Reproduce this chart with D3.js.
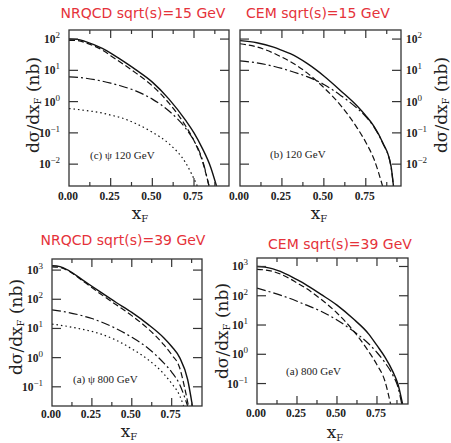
<!DOCTYPE html>
<html>
<head>
<meta charset="utf-8">
<script src="https://cdn.jsdelivr.net/npm/d3@7"></script>
<style>
  body { margin: 0; background: #fff; }
  svg { display: block; }
  .tick-label { font-family: "Liberation Serif", serif; font-size: 11.5px; font-weight: bold; fill: #222; }
  .axis-title { font-family: "DejaVu Serif", serif; font-size: 17px; fill: #222; }
  .note { font-family: "Liberation Serif", serif; font-size: 11px; fill: #222; }
  .title { font-family: "DejaVu Sans", sans-serif; font-size: 14px; fill: #e5323a; }
</style>
</head>
<body>
<div id="chart"></div>
<script>
// x ticks shared by all panels
const xTicks = [0, 0.25, 0.5, 0.75];
const xTickLabels = ["0.00", "0.25", "0.50", "0.75"];
const xMinorTicks = [0.125, 0.375, 0.625, 0.875];

// panel titles and annotations
const titles = ["NRQCD sqrt(s)=15 GeV", "CEM sqrt(s)=15 GeV", "NRQCD sqrt(s)=39 GeV", "CEM sqrt(s)=39 GeV"];
const notes = ["(c) \u03c8 120 GeV", "(b) 120 GeV", "(a) \u03c8 800 GeV", "(a) 800 GeV"];

// (c) NRQCD, 120 GeV  [xF, dsigma/dxF in nb]
const nrqcd15Total  = [[0,100],[0.05,98],[0.1,83],[0.2,50],[0.25,35.5],[0.3,24],[0.4,10.5],[0.5,4.2],[0.6,1.2],[0.7,0.25],[0.75,0.1],[0.8,0.032],[0.85,0.008],[0.885,0.002]];
const nrqcd15Dashed = [[0,91],[0.05,89],[0.1,76],[0.2,44],[0.25,29.5],[0.3,19.5],[0.4,8.3],[0.5,3.2],[0.6,0.89],[0.7,0.166],[0.75,0.056],[0.8,0.0126],[0.84,0.002]];
const nrqcd15DashDot = [[0,6.2],[0.1,5.6],[0.2,4.5],[0.25,3.9],[0.3,3.3],[0.4,2.2],[0.5,1.2],[0.6,0.5],[0.7,0.14],[0.75,0.056],[0.8,0.014],[0.84,0.002]];
const nrqcd15Dotted = [[0,0.6],[0.1,0.52],[0.2,0.43],[0.25,0.37],[0.3,0.32],[0.4,0.2],[0.5,0.105],[0.6,0.045],[0.7,0.011],[0.77,0.002]];

// (b) CEM, 120 GeV
const cem15Total  = [[0,89],[0.1,76],[0.2,55],[0.25,43.6],[0.3,34],[0.4,16.6],[0.5,6.6],[0.6,2.24],[0.7,0.71],[0.75,0.355],[0.8,0.158],[0.85,0.05],[0.9,0.0089],[0.915,0.002]];
const cem15Dashed = [[0,71],[0.1,56],[0.2,35.5],[0.25,26.3],[0.3,19],[0.4,8.3],[0.5,2.8],[0.6,0.76],[0.7,0.14],[0.75,0.05],[0.8,0.014],[0.85,0.002]];
const cem15DashDot = [[0,20],[0.1,17.4],[0.2,13.5],[0.25,11.5],[0.3,9.5],[0.4,6.3],[0.5,3.55],[0.6,1.58],[0.7,0.6],[0.75,0.33],[0.8,0.15],[0.85,0.048],[0.9,0.0085],[0.915,0.002]];

// (a) NRQCD, 800 GeV
const nrqcd39Total  = [[0,1413],[0.05,1318],[0.1,1000],[0.2,427],[0.3,182],[0.4,79],[0.5,35.5],[0.6,14.1],[0.7,4.8],[0.75,2.4],[0.8,1.0],[0.85,0.178],[0.88,0.022]];
const nrqcd39Dashed = [[0,1290],[0.05,1230],[0.1,955],[0.2,398],[0.3,158],[0.4,66],[0.5,27.5],[0.6,10],[0.7,2.8],[0.75,1.26],[0.8,0.45],[0.83,0.1],[0.855,0.022]];
const nrqcd39DashDot = [[0,43],[0.1,35.5],[0.2,26.3],[0.25,21.9],[0.3,17.4],[0.4,10],[0.5,5.0],[0.6,2.14],[0.7,0.66],[0.75,0.32],[0.8,0.12],[0.85,0.022]];
const nrqcd39Dotted = [[0,14.1],[0.1,11.7],[0.2,9.1],[0.25,7.9],[0.3,6.6],[0.4,4.0],[0.5,2.0],[0.6,0.87],[0.7,0.28],[0.75,0.13],[0.8,0.05],[0.825,0.022]];

// (a) CEM, 800 GeV
const cem39Total  = [[0,1000],[0.05,955],[0.1,832],[0.2,500],[0.25,355],[0.3,251],[0.4,112],[0.5,48],[0.6,16.6],[0.7,4.8],[0.75,2.0],[0.8,0.8],[0.85,0.25],[0.88,0.1],[0.91,0.02]];
const cem39Dashed = [[0,795],[0.05,760],[0.1,676],[0.2,398],[0.25,275],[0.3,190],[0.4,76],[0.5,25.7],[0.6,6.6],[0.7,1.2],[0.75,0.44],[0.8,0.12],[0.835,0.02]];
const cem39DashDot = [[0,182],[0.1,126],[0.2,83],[0.25,65],[0.3,50],[0.4,29.5],[0.5,14.8],[0.6,6.3],[0.7,2.24],[0.75,1.15],[0.8,0.52],[0.85,0.19],[0.88,0.08],[0.905,0.02]];

const dashStyles = { solid: null, dashed: "6,3", dashdot: "9,3,2,3", dotted: "1.5,3" };

const panels = [
  { x: 69, y: 30, w: 160, h: 156, xMax: 0.96, yDom: [0.002, 195], yTicks: [-2, -1, 0, 1, 2], side: "left",
    title: titles[0], titleX: 143, titleY: 18, note: notes[0], noteX: 90, noteY: 159,
    ytX: 33, ytY: 105, xtX: 140, xtY: 219, xlY: 200,
    series: [[nrqcd15Total, "solid"], [nrqcd15Dashed, "dashed"], [nrqcd15DashDot, "dashdot"], [nrqcd15Dotted, "dotted"]] },
  { x: 240, y: 30, w: 161, h: 156, xMax: 0.96, yDom: [0.002, 195], yTicks: [-2, -1, 0, 1, 2], side: "right",
    title: titles[1], titleX: 318, titleY: 18, note: notes[1], noteX: 270, noteY: 158,
    ytX: 441, ytY: 105, xtX: 319, xtY: 219, xlY: 200,
    series: [[cem15Total, "solid"], [cem15Dashed, "dashed"], [cem15DashDot, "dashdot"]] },
  { x: 52, y: 259, w: 150, h: 147, xMax: 0.94, yDom: [0.022, 2400], yTicks: [-1, 0, 1, 2, 3], side: "left",
    title: titles[2], titleX: 123, titleY: 245, note: notes[2], noteX: 73, noteY: 383,
    ytX: 16, ytY: 327, xtX: 129, xtY: 437, xlY: 418,
    series: [[nrqcd39Total, "solid"], [nrqcd39Dashed, "dashed"], [nrqcd39DashDot, "dashdot"], [nrqcd39Dotted, "dotted"]] },
  { x: 257, y: 258, w: 151, h: 146, xMax: 0.944, yDom: [0.02, 1950], yTicks: [-1, 0, 1, 2, 3], side: "left",
    title: titles[3], titleX: 340, titleY: 249, note: notes[3], noteX: 286, noteY: 375,
    ytX: 222, ytY: 331, xtX: 335, xtY: 438, xlY: 417,
    series: [[cem39Total, "solid"], [cem39Dashed, "dashed"], [cem39DashDot, "dashdot"]] }
];

const svg = d3.select("#chart").append("svg")
  .attr("width", 451)
  .attr("height", 443);

panels.forEach(function(p, i) {
  const xScale = d3.scaleLinear().domain([0, p.xMax]).range([p.x, p.x + p.w]);
  const yScale = d3.scaleLog().domain(p.yDom).range([p.y + p.h, p.y]);

  svg.append("clipPath").attr("id", "clip" + i)
    .append("rect").attr("x", p.x).attr("y", p.y).attr("width", p.w).attr("height", p.h);

  // curves
  const line = d3.line()
    .x(d => xScale(d[0]))
    .y(d => yScale(d[1]))
    .curve(d3.curveMonotoneX);

  const g = svg.append("g").attr("clip-path", "url(#clip" + i + ")");
  p.series.forEach(function(s) {
    g.append("path")
      .datum(s[0])
      .attr("d", line)
      .attr("fill", "none")
      .attr("stroke", "#111")
      .attr("stroke-width", s[1] === "solid" ? 1.4 : 1.2)
      .attr("stroke-dasharray", dashStyles[s[1]]);
  });

  // frame
  svg.append("rect")
    .attr("x", p.x).attr("y", p.y).attr("width", p.w).attr("height", p.h)
    .attr("fill", "none").attr("stroke", "#333").attr("stroke-width", 1.3);

  // ticks (inward on all four sides)
  const ticks = svg.append("g").attr("stroke", "#333").attr("stroke-width", 1.2);
  xTicks.concat(xMinorTicks).forEach(function(t) {
    const len = xTicks.includes(t) ? 8 : 4;
    const xx = xScale(t);
    if (t > 0) {
      ticks.append("line").attr("x1", xx).attr("x2", xx).attr("y1", p.y + p.h).attr("y2", p.y + p.h - len);
      ticks.append("line").attr("x1", xx).attr("x2", xx).attr("y1", p.y).attr("y2", p.y + len);
    }
  });
  p.yTicks.forEach(function(e) {
    const yy = yScale(Math.pow(10, e));
    ticks.append("line").attr("x1", p.x).attr("x2", p.x + 9).attr("y1", yy).attr("y2", yy);
    ticks.append("line").attr("x1", p.x + p.w).attr("x2", p.x + p.w - 9).attr("y1", yy).attr("y2", yy);
  });

  // x tick labels
  xTicks.forEach(function(t, k) {
    svg.append("text").attr("class", "tick-label")
      .attr("x", xScale(t) - 1).attr("y", p.xlY)
      .attr("text-anchor", "middle")
      .text(xTickLabels[k]);
  });

  // y tick labels 10^e
  p.yTicks.forEach(function(e) {
    const yy = yScale(Math.pow(10, e));
    const txt = svg.append("text").attr("class", "tick-label")
      .attr("y", yy + 4);
    if (p.side === "left") {
      txt.attr("x", p.x - 9).attr("text-anchor", "end");
    } else {
      txt.attr("x", p.x + p.w + 5).attr("text-anchor", "start");
    }
    txt.append("tspan").text("10");
    txt.append("tspan").attr("dy", -5).attr("font-size", "9px").attr("font-weight", "normal")
      .text(e < 0 ? "\u2212" + Math.abs(e) : String(e));
  });

  // y axis title
  const yt = svg.append("text").attr("class", "axis-title")
    .attr("transform", "translate(" + p.ytX + "," + p.ytY + ") rotate(-90)")
    .attr("text-anchor", "middle")
    .attr("dominant-baseline", "central");
  yt.append("tspan").text("d\u03c3/dx");
  yt.append("tspan").attr("font-size", "10px").attr("dy", 4).text("F");
  yt.append("tspan").attr("dy", -4).text(" (nb)");

  // x axis title
  const xt = svg.append("text").attr("class", "axis-title")
    .attr("x", p.xtX).attr("y", p.xtY).attr("text-anchor", "middle");
  xt.append("tspan").text("x");
  xt.append("tspan").attr("font-size", "10px").attr("dy", 3).text("F");

  // annotation
  svg.append("text").attr("class", "note")
    .attr("x", p.noteX).attr("y", p.noteY)
    .text(p.note);

  // red panel title
  svg.append("text").attr("class", "title")
    .attr("x", p.titleX).attr("y", p.titleY)
    .attr("text-anchor", "middle")
    .text(p.title);
});
</script>
</body>
</html>
